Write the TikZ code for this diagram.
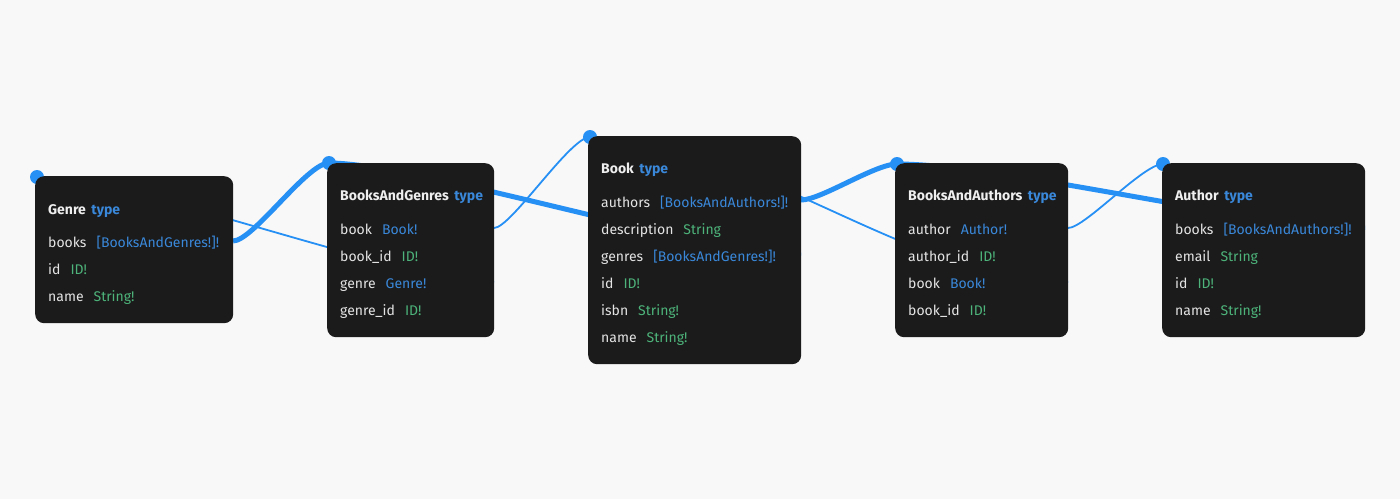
\documentclass[tikz,border=0pt]{standalone}
\usepackage{fontspec}
\setmainfont{Fira Sans}
\definecolor{bgc}{HTML}{F8F8F8}
\definecolor{boxc}{HTML}{1B1B1B}
\definecolor{edgec}{HTML}{2790F5}
\definecolor{tblue}{HTML}{3A88DA}
\definecolor{tgreen}{HTML}{4DB37A}
\definecolor{fname}{HTML}{E4E4E4}
\definecolor{ttlc}{HTML}{EFEFEF}
\newcommand\TyB[1]{\textcolor{tblue}{#1}}
\newcommand\TyG[1]{\textcolor{tgreen}{#1}}
\newcommand\FGap{\hspace{10pt}}
\newcommand\TGap{\hspace{5.5pt}}
\begin{document}
\begin{tikzpicture}[x=1pt,y=-1pt,
  typebox/.style={fill=boxc, rounded corners=9pt, draw=none, anchor=north west, inner sep=0pt},
  ttl/.style={anchor=base west, inner sep=0pt, font=\fontsize{14}{16}\selectfont\bfseries, text=ttlc},
  fld/.style={anchor=base west, inner sep=0pt, font=\fontsize{14}{16}\selectfont, text=fname},
  thickedge/.style={draw=edgec, line width=5pt},
  thinedge/.style={draw=edgec, line width=1.8pt},
  dotc/.style={circle, fill=edgec, minimum size=14pt, inner sep=0pt}]
\fill[bgc] (0,0) rectangle (1400,499);
\useasboundingbox (0,0) rectangle (1400,499);

% handle dots
\node[dotc] (genre-dot) at (37,177) {};
\node[dotc] (bag-dot) at (329,163) {};
\node[dotc] (book-dot) at (590,137) {};
\node[dotc] (baa-dot) at (897,164) {};
\node[dotc] (author-dot) at (1163,164) {};

% field end points
\coordinate (genre-books-r) at (233,241);
\coordinate (bag-book-r) at (494,228);
\coordinate (bag-genre-r) at (494,282);
\coordinate (book-authors-r) at (801,200);
\coordinate (book-genres-r) at (801,255);
\coordinate (baa-author-r) at (1068,228);
\coordinate (baa-book-r) at (1068,282);
\coordinate (author-books-r) at (1365,228);

% connectors
\draw[thickedge] (genre-books-r) .. controls +(20,0) and +(-22,0) .. (bag-dot.center);
\draw[thinedge] (genre-dot.center) .. controls +(92,0) and +(-92,0) .. (bag-genre-r);
\draw[thinedge] (bag-book-r) .. controls +(17,0) and +(-20,0) .. (book-dot.center);
\draw[thickedge] (bag-dot.center) .. controls +(88,0) and +(-88,0) .. (book-genres-r);
\draw[thickedge] (book-authors-r) .. controls +(20,0) and +(-22,0) .. (baa-dot.center);
\draw[thinedge] (book-dot.center) .. controls +(160,0) and +(-160,0) .. (baa-book-r);
\draw[thinedge] (baa-author-r) .. controls +(17,0) and +(-20,0) .. (author-dot.center);
\draw[thickedge] (baa-dot.center) .. controls +(105,0) and +(-105,0) .. (author-books-r);

% boxes
\node[typebox, minimum width=198pt, minimum height=147pt] (genre) at (35,176) {};
\node[typebox, minimum width=167pt, minimum height=174pt] (bag) at (327,163) {};
\node[typebox, minimum width=213pt, minimum height=228pt] (book) at (588,136) {};
\node[typebox, minimum width=173pt, minimum height=174pt] (baa) at (895,163) {};
\node[typebox, minimum width=203pt, minimum height=174pt] (author) at (1162,163) {};

% Genre
\node[ttl] (genre-title) at (48,214) {Genre\TGap\textcolor{tblue}{type}};
\node[fld] (genre-books) at (48,247) {books\FGap\TyB{[BooksAndGenres!]!}};
\node[fld] (genre-id) at (48,274) {id\FGap\TyG{ID!}};
\node[fld] (genre-name) at (48,301) {name\FGap\TyG{String!}};

% BooksAndGenres
\node[ttl] (bag-title) at (340,200) {BooksAndGenres\TGap\textcolor{tblue}{type}};
\node[fld] (bag-book) at (340,234) {book\FGap\TyB{Book!}};
\node[fld] (bag-bookid) at (340,261) {book\_id\FGap\TyG{ID!}};
\node[fld] (bag-genre) at (340,288) {genre\FGap\TyB{Genre!}};
\node[fld] (bag-genreid) at (340,315) {genre\_id\FGap\TyG{ID!}};

% Book
\node[ttl] (book-title) at (601,173) {Book\TGap\textcolor{tblue}{type}};
\node[fld] (book-authors) at (601,207) {authors\FGap\TyB{[BooksAndAuthors!]!}};
\node[fld] (book-description) at (601,234) {description\FGap\TyG{String}};
\node[fld] (book-genres) at (601,261) {genres\FGap\TyB{[BooksAndGenres!]!}};
\node[fld] (book-id) at (601,288) {id\FGap\TyG{ID!}};
\node[fld] (book-isbn) at (601,315) {isbn\FGap\TyG{String!}};
\node[fld] (book-name) at (601,342) {name\FGap\TyG{String!}};

% BooksAndAuthors
\node[ttl] (baa-title) at (908,200) {BooksAndAuthors\TGap\textcolor{tblue}{type}};
\node[fld] (baa-author) at (908,234) {author\FGap\TyB{Author!}};
\node[fld] (baa-authorid) at (908,261) {author\_id\FGap\TyG{ID!}};
\node[fld] (baa-book) at (908,288) {book\FGap\TyB{Book!}};
\node[fld] (baa-bookid) at (908,315) {book\_id\FGap\TyG{ID!}};

% Author
\node[ttl] (author-title) at (1175,200) {Author\TGap\textcolor{tblue}{type}};
\node[fld] (author-books) at (1175,234) {books\FGap\TyB{[BooksAndAuthors!]!}};
\node[fld] (author-email) at (1175,261) {email\FGap\TyG{String}};
\node[fld] (author-id) at (1175,288) {id\FGap\TyG{ID!}};
\node[fld] (author-name) at (1175,315) {name\FGap\TyG{String!}};
\end{tikzpicture}
\end{document}
